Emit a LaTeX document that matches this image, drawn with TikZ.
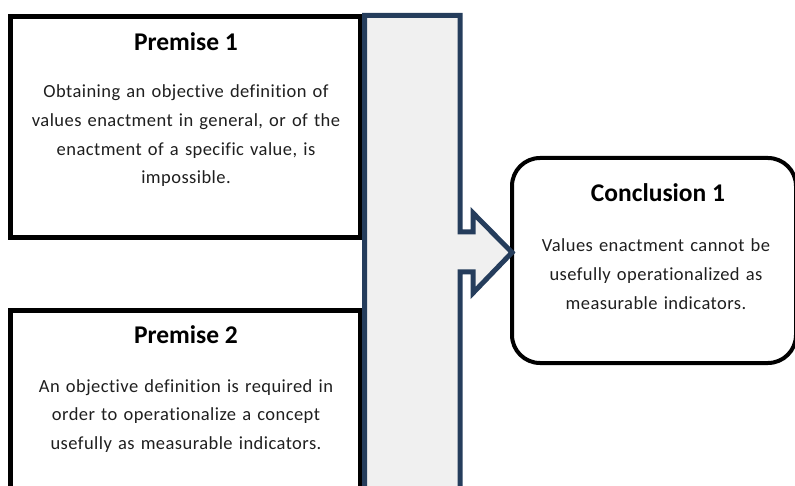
\documentclass[tikz,border=0pt]{standalone}
\usepackage{fontspec}
\setmainfont{Carlito}[Ligatures=NoCommon]
\newfontfamily\spacedfont{Carlito}[Ligatures=NoCommon,LetterSpace=2.4]
\usetikzlibrary{positioning}
\definecolor{barblue}{RGB}{37,61,92}
\definecolor{bargray}{RGB}{240,240,240}

\begin{document}
\begin{tikzpicture}[x=1pt,y=-1pt]
\tikzstyle{premise box}=[draw,line width=5pt,fill=white,inner sep=0,outer sep=0,anchor=north west,minimum width=350pt]
\tikzstyle{result box}=[draw,line width=4pt,fill=white,inner sep=0,outer sep=0,anchor=north west,rounded corners=28pt,minimum width=284pt,minimum height=205pt]
\tikzstyle{head}=[anchor=base,inner sep=0,font=\fontsize{25.5}{28}\selectfont\bfseries]
\tikzstyle{body}=[anchor=base,inner sep=0,align=center,text width=345pt,text=black!88,font=\spacedfont\fontsize{18.5}{28.6}\selectfont]
\clip (0,0) rectangle (795,486);
\node[premise box,minimum height=221pt](p1) at (10.5,16.5){};
\node[premise box,minimum height=220pt](p2) at (10.5,310.5){};
\node[result box](c1) at (512,158){};
\filldraw[fill=bargray,draw=barblue,line width=5pt,line join=miter]
(364.5,520) -- (364.5,15.5) -- (460,15.5) -- (460,232) -- (473,232) -- (473,213)
-- (512,252.5) -- (473,293) -- (473,272) -- (460,272) -- (460,520);
\node[head](p1head) at (186,51){Premise 1};
\node[body](p1text) at (186,98){Obtaining an objective definition of\\values enactment in general, or of the\\enactment of a specific value, is\\impossible.};
\node[head](p2head) at (186,343){Premise 2};
\node[body](p2text) at (186,392){An objective definition is required in\\order to operationalize a concept\\usefully as measurable indicators.};
\node[head](c1head) at (658,202){Conclusion 1};
\node[body](c1text) at (656,252){Values enactment cannot be\\usefully operationalized as\\measurable indicators.};
\end{tikzpicture}
\end{document}
